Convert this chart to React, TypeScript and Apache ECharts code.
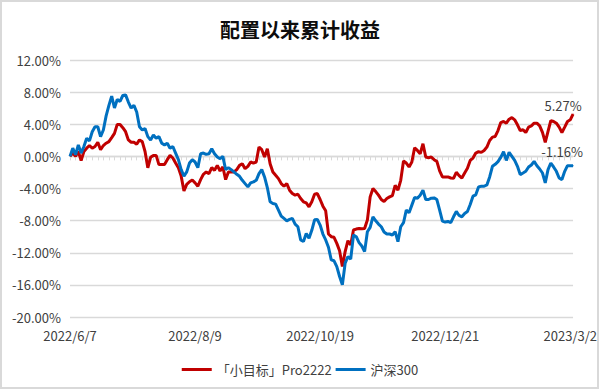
import React, { useEffect, useRef } from "react";
import * as echarts from "echarts";

// Trading days per month (categories)
const d2022_06 = [7, 8, 9, 10, 13, 14, 15, 16, 17, 20, 21, 22, 23, 24, 27, 28, 29, 30];
const d2022_07 = [1, 4, 5, 6, 7, 8, 11, 12, 13, 14, 15, 18, 19, 20, 21, 22, 25, 26, 27, 28, 29];
const d2022_08 = [1, 2, 3, 4, 5, 8, 9, 10, 11, 12, 15, 16, 17, 18, 19, 22, 23, 24, 25, 26, 29, 30, 31];
const d2022_09 = [1, 2, 5, 6, 7, 8, 9, 13, 14, 15, 16, 19, 20, 21, 22, 23, 26, 27, 28, 29, 30];
const d2022_10 = [10, 11, 12, 13, 14, 17, 18, 19, 20, 21, 24, 25, 26, 27, 28, 31];
const d2022_11 = [1, 2, 3, 4, 7, 8, 9, 10, 11, 14, 15, 16, 17, 18, 21, 22, 23, 24, 25, 28, 29, 30];
const d2022_12 = [1, 2, 5, 6, 7, 8, 9, 12, 13, 14, 15, 16, 19, 20, 21, 22, 23, 26, 27, 28, 29, 30];
const d2023_01 = [3, 4, 5, 6, 9, 10, 11, 12, 13, 16, 17, 18, 19, 20, 30, 31];
const d2023_02 = [1, 2, 3, 6, 7, 8, 9, 10, 13, 14, 15, 16, 17, 20, 21, 22, 23, 24, 27, 28];
const d2023_03 = [1, 2, 3];

const months: [string, number[]][] = [
  ["2022/6", d2022_06],
  ["2022/7", d2022_07],
  ["2022/8", d2022_08],
  ["2022/9", d2022_09],
  ["2022/10", d2022_10],
  ["2022/11", d2022_11],
  ["2022/12", d2022_12],
  ["2023/1", d2023_01],
  ["2023/2", d2023_02],
  ["2023/3", d2023_03],
];
const categories: string[] = months.flatMap(([ym, ds]) => ds.map((d) => `${ym}/${d}`));

const seriesNames = ["「小目标」Pro2222", "沪深300"];

// Cumulative return (%) of the strategy
const strategy = [
  0, 0.41, 0, 0.61, -0.53, 0.61, 1.02, 1.35, 1.02, 1.23,
  1.76, 0.82, 1.35, 1.64, 1.84, 2.34, 2.87, 3.98, 3.98, 3.57,
  3.07, 2.05, 1.76, 1.76, 1.52, 2.05, 1.84, 0.61, -1.43, -0.12,
  0.12, 0.12, -1.02, -1.02, -1.02, -0.41, 0.12, -0.2, -0.82, -1.43,
  -2.46, -4.3, -3.48, -3.16, -2.95, -3.3, -3.72, -2.89, -2.23, -1.94,
  -2.15, -1.4, -1.74, -1.12, -1.82, -1.32, -2.89, -1.94, -1.94, -1.94,
  -1.65, -1.12, -0.91, -1.53, -1.24, -0.7, -0.83, -0.7, 1.16, 0.83,
  -0.08, 0.95, -0.91, -1.94, -2.36, -2.77, -3.39, -3.72, -3.39, -4.21,
  -4.63, -4.83, -4.71, -5.25, -5.66, -5.8, -6.28, -5.66, -4.71, -4.63,
  -5.37, -6.2, -6.78, -9.67, -10.0, -10.08, -10.83, -11.74, -13.72, -11.86,
  -10.5, -11.03, -9.17, -9.05, -8.97, -9.01, -8.97, -7.93, -5.04, -4.0,
  -4.38, -4.83, -5.37, -5.62, -5.25, -5.04, -4.88, -3.6, -4.21, -2.98,
  -0.58, -0.83, -1.32, -0.7, 1.07, 0.74, 0.33, 1.57, -0.08, -0.17,
  -0.08, -0.41, -0.62, -1.8, -2.56, -2.56, -2.56, -2.69, -2.73, -1.98,
  -2.4, -2.69, -2.07, -1.49, -0.5, -0.21, 0.41, 0.58, 0.5, 0.74,
  1.16, 1.98, 2.4, 2.48, 3.22, 4.21, 4.34, 4.13, 4.63, 4.83,
  4.55, 3.93, 3.22, 3.31, 2.98, 3.64, 3.8, 4.13, 4.13, 3.8,
  2.98, 1.74, 3.1, 4.46, 4.34, 4.13, 3.64, 2.98, 3.64, 4.34,
  4.55, 5.27,
];

// Cumulative return (%) of CSI 300
const csi300 = [
  0, 1.02, 0.2, 1.43, 0.41, 1.23, 2.25, 1.93, 3.07, 3.69,
  3.69, 2.46, 3.28, 5.04, 6.35, 7.5, 6.02, 7.09, 6.84, 7.58,
  7.66, 6.76, 6.02, 6.35, 5.53, 3.69, 3.28, 3.48, 2.46, 2.05,
  2.66, 2.25, 2.46, 1.64, 1.43, 1.64, 1.02, 1.23, 0.41, -0.41,
  -1.64, -2.46, -1.93, -0.82, -0.41, -0.7, -1.4, 0.33, 0.41, 0.25,
  0.33, 0.95, 0.33, -0.08, -0.29, 0, -1.65, -1.4, -1.65, -1.94,
  -2.23, -2.48, -2.98, -3.39, -3.8, -3.31, -3.18, -2.98, -2.15, -1.65,
  -2.56, -3.88, -5.66, -5.87, -5.95, -6.69, -7.44, -7.73, -8.02, -7.85,
  -7.73, -8.43, -8.76, -10.41, -10.6, -9.6, -10.2, -9.2, -7.9, -7.85,
  -8.55, -9.67, -10.41, -11.32, -12.89, -13.0, -13.72, -14.96, -15.99, -13.3,
  -12.48, -12.8, -9.79, -10.0, -10.74, -11.16, -11.86, -9.38, -8.84, -7.52,
  -8.02, -8.43, -8.76, -9.42, -9.67, -9.67, -9.79, -9.38, -10.62, -8.76,
  -8.26, -6.69, -7.02, -6.07, -5.12, -5.21, -4.83, -4.21, -5.37, -5.37,
  -5.2, -5.17, -5.37, -6.7, -8.06, -8.18, -8.1, -8.26, -7.52, -6.86,
  -7.36, -7.52, -7.11, -6.86, -5.99, -4.96, -4.79, -3.8, -3.72, -3.72,
  -3.55, -2.56, -1.24, -0.99, -0.66, -0.12, 0.58, -0.5, 0.5, 0,
  -0.5, -1.24, -2.27, -2.07, -1.86, -1.32, -1.07, -0.62, -1.16, -1.57,
  -2.07, -3.31, -1.65, -0.83, -1.32, -1.86, -2.69, -2.89, -1.86, -1.16,
  -1.16, -1.16,
];

const yMin = -20;
const yMax = 12;
const yStep = 4;

const FONT = "'Noto Sans CJK SC', 'Noto Sans', sans-serif";
const TEXT = "#404040";
const GRID = "#d9d9d9";
const RED = "#C00000";
const BLUE = "#0070C0";

function withEndLabel(values: number[], color: string, offset: number[], distance: number) {
  return values.map((v, i) =>
    i === values.length - 1
      ? {
          value: v,
          symbol: "circle",
          symbolSize: 1,
          itemStyle: { color },
          label: {
            show: true,
            position: "top",
            distance,
            offset,
            formatter: (p: any) => `${Number(p.value).toFixed(2)}%`,
            color: TEXT,
            fontSize: 13,
            fontFamily: FONT,
          },
        }
      : v
  );
}

export default function App() {
  const ref = useRef<HTMLDivElement>(null);

  useEffect(() => {
    if (!ref.current) return;
    const chart = echarts.init(ref.current, undefined, { renderer: "svg" });
    chart.setOption({
      animation: false,
      backgroundColor: "#ffffff",
      textStyle: { fontFamily: FONT },
      title: {
        text: "配置以来累计收益",
        left: "center",
        top: 14,
        textStyle: { fontSize: 20, fontWeight: "bold", color: "#0d0d0d", fontFamily: FONT },
      },
      legend: {
        data: seriesNames,
        top: 358,
        left: "center",
        icon: "rect",
        itemWidth: 30,
        itemHeight: 3,
        itemGap: 4,
        textStyle: { color: TEXT, fontSize: 13, fontFamily: FONT },
      },
      grid: { left: 70, right: 19, top: 60, bottom: 73, containLabel: false },
      xAxis: [
        {
          type: "category",
          data: categories,
          boundaryGap: false,
          axisLine: { show: false, onZero: false },
          axisTick: { show: false },
          splitLine: { show: false },
          axisLabel: { interval: 44, color: TEXT, fontSize: 13, margin: 12, fontFamily: FONT },
        },
        {
          type: "category",
          data: categories,
          boundaryGap: false,
          position: "bottom",
          axisLine: { show: true, onZero: true, onZeroAxisIndex: 0, lineStyle: { color: GRID, width: 1.3 } },
          axisTick: { show: true, interval: 1, length: 4, lineStyle: { color: GRID, width: 1 } },
          axisLabel: { show: false },
          splitLine: { show: false },
        },
      ],
      yAxis: {
        type: "value",
        min: yMin,
        max: yMax,
        interval: yStep,
        axisLine: { show: false },
        axisTick: { show: false },
        axisLabel: {
          color: TEXT,
          fontSize: 13,
          margin: 9,
          fontFamily: FONT,
          formatter: (v: number) => `${v.toFixed(2)}%`,
        },
        splitLine: { show: true, lineStyle: { color: GRID, width: 1.3 } },
      },
      series: [
        {
          name: seriesNames[0],
          type: "line",
          xAxisIndex: 0,
          data: withEndLabel(strategy, RED, [-10, 0], 2),
          showSymbol: true,
          showAllSymbol: true,
          symbol: "none",
          lineStyle: { color: RED, width: 3 },
          itemStyle: { color: RED },
        },
        {
          name: seriesNames[1],
          type: "line",
          xAxisIndex: 0,
          data: withEndLabel(csi300, BLUE, [-11, 0], 7),
          showSymbol: true,
          showAllSymbol: true,
          symbol: "none",
          lineStyle: { color: BLUE, width: 3 },
          itemStyle: { color: BLUE },
        },
      ],
      graphic: [
        {
          type: "rect",
          z: 100,
          silent: true,
          shape: { x: 1, y: 1, width: 597, height: 387 },
          style: { fill: "none", stroke: GRID, lineWidth: 2 },
        },
      ],
    });
    return () => chart.dispose();
  }, []);

  return (
    <div
      ref={ref}
      style={{ position: "fixed", left: 0, top: 0, width: 600, height: 390, background: "#fff" }}
    />
  );
}
